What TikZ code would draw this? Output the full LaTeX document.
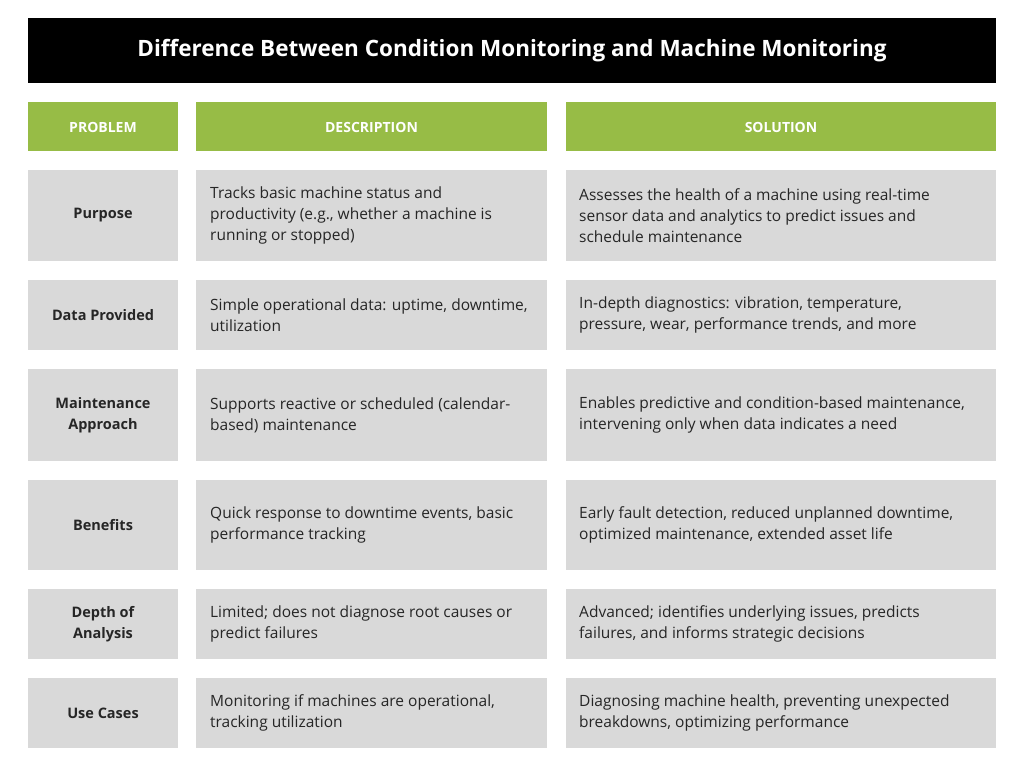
\documentclass[tikz,border=0pt]{standalone}
\usepackage{fontspec}
\setmainfont{Open Sans}
\definecolor{hdrgreen}{HTML}{97BC46}
\definecolor{cellgray}{HTML}{D9D9D9}
\begin{document}
\begin{tikzpicture}[x=1pt,y=-1pt,
          cell/.style={fill=cellgray, draw=none},
          head/.style={fill=hdrgreen, draw=none},
          headtext/.style={text=white, font=\fontsize{14}{17}\selectfont\bfseries},
          celltext/.style={anchor=west, align=left, inner sep=0pt, font=\fontsize{15.5}{21}\selectfont, text=black!85},
          rowlabel/.style={align=center, inner sep=0pt, font=\fontsize{14.5}{21}\selectfont\bfseries, text=black!85},
          ]
          \useasboundingbox[fill=white] (0,0) rectangle (1024,768);

          % title
          \fill[black] (28,18) rectangle (996,83);
          \node[text=white, font=\fontsize{22.5}{26}\selectfont\bfseries] (title) at (512,51) {Difference Between Condition Monitoring and Machine Monitoring};

          % header row
          \fill[head] (28,102) rectangle (178,151);
          \fill[head] (196,102) rectangle (547,151);
          \fill[head] (566,102) rectangle (996,151);
          \node[headtext] (hprob) at (103,127) {PROBLEM};
          \node[headtext] (hdesc) at (371.5,127) {DESCRIPTION};
          \node[headtext] (hsol) at (781,127) {SOLUTION};

          % rows: top/bottom/label/description/solution
          \foreach \top/\bot/\lab/\desc/\sol [count=\i] in {
              170/261/Purpose/{Tracks basic machine status and\\productivity (e.g., whether a machine is\\running or stopped)}/{Assesses the health of a machine using real-time\\sensor data and analytics to predict issues and\\schedule maintenance},
              280/350/Data Provided/{Simple operational data: uptime, downtime,\\utilization}/{In-depth diagnostics: vibration, temperature,\\pressure, wear, performance trends, and more},
              369/461/{Maintenance\\Approach}/{Supports reactive or scheduled (calendar-\\based) maintenance}/{Enables predictive and condition-based maintenance,\\intervening only when data indicates a need},
              480/570/Benefits/{Quick response to downtime events, basic\\performance tracking}/{Early fault detection, reduced unplanned downtime,\\optimized maintenance, extended asset life},
              589/659/{Depth of\\Analysis}/{Limited; does not diagnose root causes or\\predict failures}/{Advanced; identifies underlying issues, predicts\\failures, and informs strategic decisions},
              678/748/Use Cases/{Monitoring if machines are operational,\\tracking utilization}/{Diagnosing machine health, preventing unexpected\\breakdowns, optimizing performance}} {
            \fill[cell] (28,\top) rectangle (178,\bot);
            \fill[cell] (196,\top) rectangle (547,\bot);
            \fill[cell] (566,\top) rectangle (996,\bot);
            \node[rowlabel] (lab\i) at (103,{(\top+\bot)/2}) {\lab};
            \node[celltext] (desc\i) at (210,{(\top+\bot)/2}) {\desc};
            \node[celltext] (sol\i) at (579,{(\top+\bot)/2}) {\sol};
          }
\end{tikzpicture}
\end{document}
